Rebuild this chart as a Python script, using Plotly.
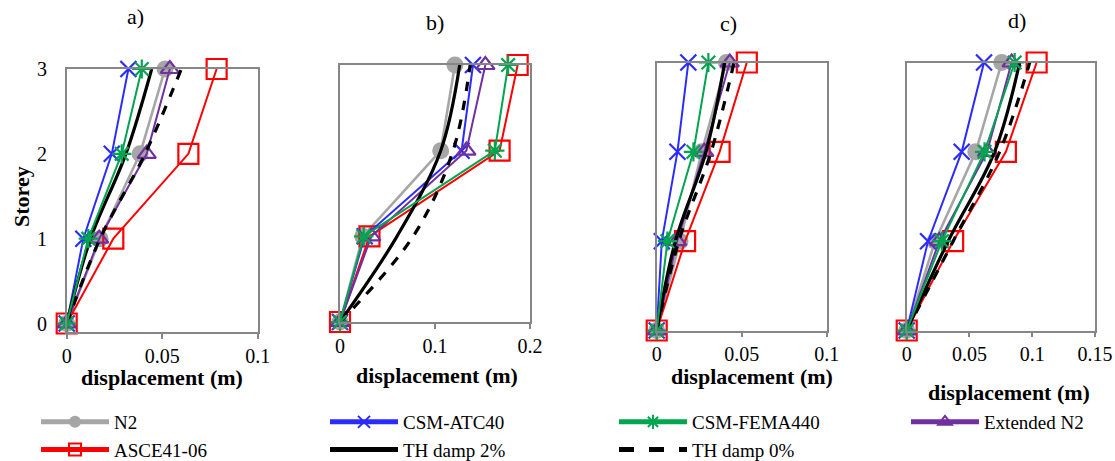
import plotly.graph_objects as go

# ---------------- data ----------------
storeys = [0, 1, 2, 3]
panel_titles = ["a)", "b)", "c)", "d)"]
series_names = ["N2", "CSM-ATC40", "CSM-FEMA440", "Extended N2",
                "ASCE41-06", "TH damp 2%", "TH damp 0%"]

# panel a
n2_a = [0, 0.0175, 0.0384, 0.0515]
atc40_a = [0, 0.0087, 0.0236, 0.0323]
fema_a = [0, 0.0113, 0.0288, 0.0393]
ext_a = [0, 0.017, 0.0419, 0.054]
asce_a = [0, 0.0244, 0.0637, 0.0785]
th2_a = [0, 0.0125, 0.031, 0.0445]
th0_a = [0, 0.0175, 0.041, 0.060]

# panel b
n2_b = [0, 0.024, 0.106, 0.121]
atc40_b = [0, 0.026, 0.128, 0.140]
fema_b = [0, 0.025, 0.163, 0.177]
ext_b = [0, 0.033, 0.133, 0.153]
asce_b = [0, 0.031, 0.168, 0.187]
th2_b = [0, 0.060, 0.106, 0.126]
th0_b = [0, 0.077, 0.119, 0.137]

# panel c
n2_c = [0, 0.0137, 0.0265, 0.041]
atc40_c = [0, 0.003, 0.0122, 0.0186]
fema_c = [0, 0.0063, 0.0216, 0.0304]
ext_c = [0, 0.012, 0.028, 0.043]
asce_c = [0, 0.0167, 0.037, 0.053]
th2_c = [0, 0.011, 0.029, 0.040]
th0_c = [0, 0.013, 0.032, 0.0455]

# panel d
n2_d = [0, 0.0226, 0.055, 0.0757]
atc40_d = [0, 0.017, 0.0438, 0.0616]
fema_d = [0, 0.028, 0.062, 0.086]
ext_d = [0, 0.026, 0.064, 0.0836]
asce_d = [0, 0.037, 0.079, 0.1035]
th2_d = [0, 0.033, 0.070, 0.090]
th0_d = [0, 0.037, 0.074, 0.098]

x_max = [0.1, 0.2, 0.1, 0.15]
x_dtick = [0.05, 0.1, 0.05, 0.05]

panels = [
    [n2_a, atc40_a, fema_a, ext_a, asce_a, th2_a, th0_a],
    [n2_b, atc40_b, fema_b, ext_b, asce_b, th2_b, th0_b],
    [n2_c, atc40_c, fema_c, ext_c, asce_c, th2_c, th0_c],
    [n2_d, atc40_d, fema_d, ext_d, asce_d, th2_d, th0_d],
]

# ---------------- styles ----------------
W, H = 1115, 461
FONT = "Liberation Serif"
AXC = "#868686"

styles = {
    "N2": dict(line=dict(color="#A6A6A6", width=2.6),
               marker=dict(symbol="circle", size=17, color="#A6A6A6")),
    "CSM-ATC40": dict(line=dict(color="#2B2BFF", width=2),
                      marker=dict(symbol="x-thin-open", size=16,
                                  line=dict(color="#2B2BFF", width=2.2))),
    "CSM-FEMA440": dict(line=dict(color="#00A550", width=2),
                        marker=dict(symbol="asterisk-open", size=16,
                                    line=dict(color="#00A550", width=2.2))),
    "Extended N2": dict(line=dict(color="#7030A0", width=2),
                        marker=dict(symbol="triangle-up-open", size=16,
                                    line=dict(color="#7030A0", width=2.2))),
    "ASCE41-06": dict(line=dict(color="#FF0000", width=2),
                      marker=dict(symbol="square-open", size=20,
                                  line=dict(color="#FF0000", width=2.2))),
    "TH damp 2%": dict(line=dict(color="black", width=3.2, shape="spline")),
    "TH damp 0%": dict(line=dict(color="black", width=3.2, dash="dash", shape="spline")),
}
draw_order = ["N2", "ASCE41-06", "CSM-ATC40", "Extended N2",
              "TH damp 2%", "TH damp 0%", "CSM-FEMA440"]

# panel boxes in pixels: (left, right, top, bottom)
boxes = [(66.7, 257.7, 69, 332), (340, 530, 65, 322),
         (656.7, 826.7, 62.5, 330.5), (906.7, 1095, 62.5, 330.5)]
y_ranges = [[-0.1, 3], [0, 3], [0, 3], [0, 3]]

fig = go.Figure()
for p, data in enumerate(panels):
    sfx = "" if p == 0 else str(p + 1)
    for name in draw_order:
        idx = series_names.index(name)
        st = styles[name]
        mode = "lines" if name.startswith("TH") else "lines+markers"
        fig.add_trace(go.Scatter(
            x=data[idx], y=storeys, mode=mode, name=name,
            legendrank=idx + 1, showlegend=(p == 0),
            legend="legend2" if name == "Extended N2" else "legend",
            line=st["line"], marker=st.get("marker"),
            xaxis="x" + sfx, yaxis="y" + sfx, cliponaxis=False,
        ))

leg_common = dict(orientation="h", xanchor="left", yanchor="top",
                  font=dict(family=FONT, size=19, color="black"),
                  entrywidth=206, entrywidthmode="pixels", itemwidth=68,
                  itemsizing="constant",
                  traceorder="normal", bgcolor="rgba(0,0,0,0)")
layout = dict(
    width=W, height=H, margin=dict(l=0, r=0, t=0, b=0, autoexpand=False),
    paper_bgcolor="white", plot_bgcolor="white",
    font=dict(family=FONT, size=20, color="black"),
    showlegend=True,
    legend=dict(x=36 / W, y=(H - 403) / H, **leg_common),
    legend2=dict(x=906 / W, y=(H - 403) / H, **leg_common),
)
annotations = []
title_pos = [(135, 16), (435, 22), (728, 24), (1017, 21)]
xlabel_pos = [(162, 377), (437, 375), (752, 376), (1009, 392)]
for p in range(4):
    sfx = "" if p == 0 else str(p + 1)
    l, r, t, b = boxes[p]
    layout["xaxis" + sfx] = dict(
        domain=[l / W, r / W], anchor="y" + sfx, range=[0, x_max[p]],
        dtick=x_dtick[p], tick0=0, showline=True, mirror=True, linecolor=AXC,
        linewidth=1.5, ticks="outside", ticklen=5, tickcolor=AXC, tickwidth=1.5,
        showgrid=False, zeroline=False,
        tickfont=dict(family=FONT, size=20, color="black"))
    ya = dict(
        domain=[(H - b) / H, (H - t) / H], anchor="x" + sfx, range=y_ranges[p],
        showline=True, mirror=True, linecolor=AXC, linewidth=1.5,
        showgrid=False, zeroline=False)
    if p == 0:
        ya.update(tickvals=[0, 1, 2, 3], ticks="", ticklabelstandoff=14,
                  tickfont=dict(family=FONT, size=20, color="black"))
    else:
        ya.update(showticklabels=False, ticks="")
    layout["yaxis" + sfx] = ya
    tx, ty = title_pos[p]
    annotations.append(dict(text=panel_titles[p], x=tx / W, y=(H - ty) / H,
                            xref="paper", yref="paper", showarrow=False,
                            xanchor="center", yanchor="middle",
                            font=dict(family=FONT, size=22, color="black")))
    lx, ly = xlabel_pos[p]
    annotations.append(dict(text="<b>displacement (m)</b>", x=lx / W, y=(H - ly) / H,
                            xref="paper", yref="paper", showarrow=False,
                            xanchor="center", yanchor="middle",
                            font=dict(family=FONT, size=22, color="black")))
annotations.append(dict(text="<b>Storey</b>", x=22 / W, y=(H - 197) / H,
                        xref="paper", yref="paper", showarrow=False, textangle=-90,
                        xanchor="center", yanchor="middle",
                        font=dict(family=FONT, size=22, color="black")))
layout["annotations"] = annotations
fig.update_layout(**layout)
fig.write_html("out.html", config={"displayModeBar": False},
               post_script="document.body.style.margin='0px';"
                           "document.body.style.overflow='hidden';")
